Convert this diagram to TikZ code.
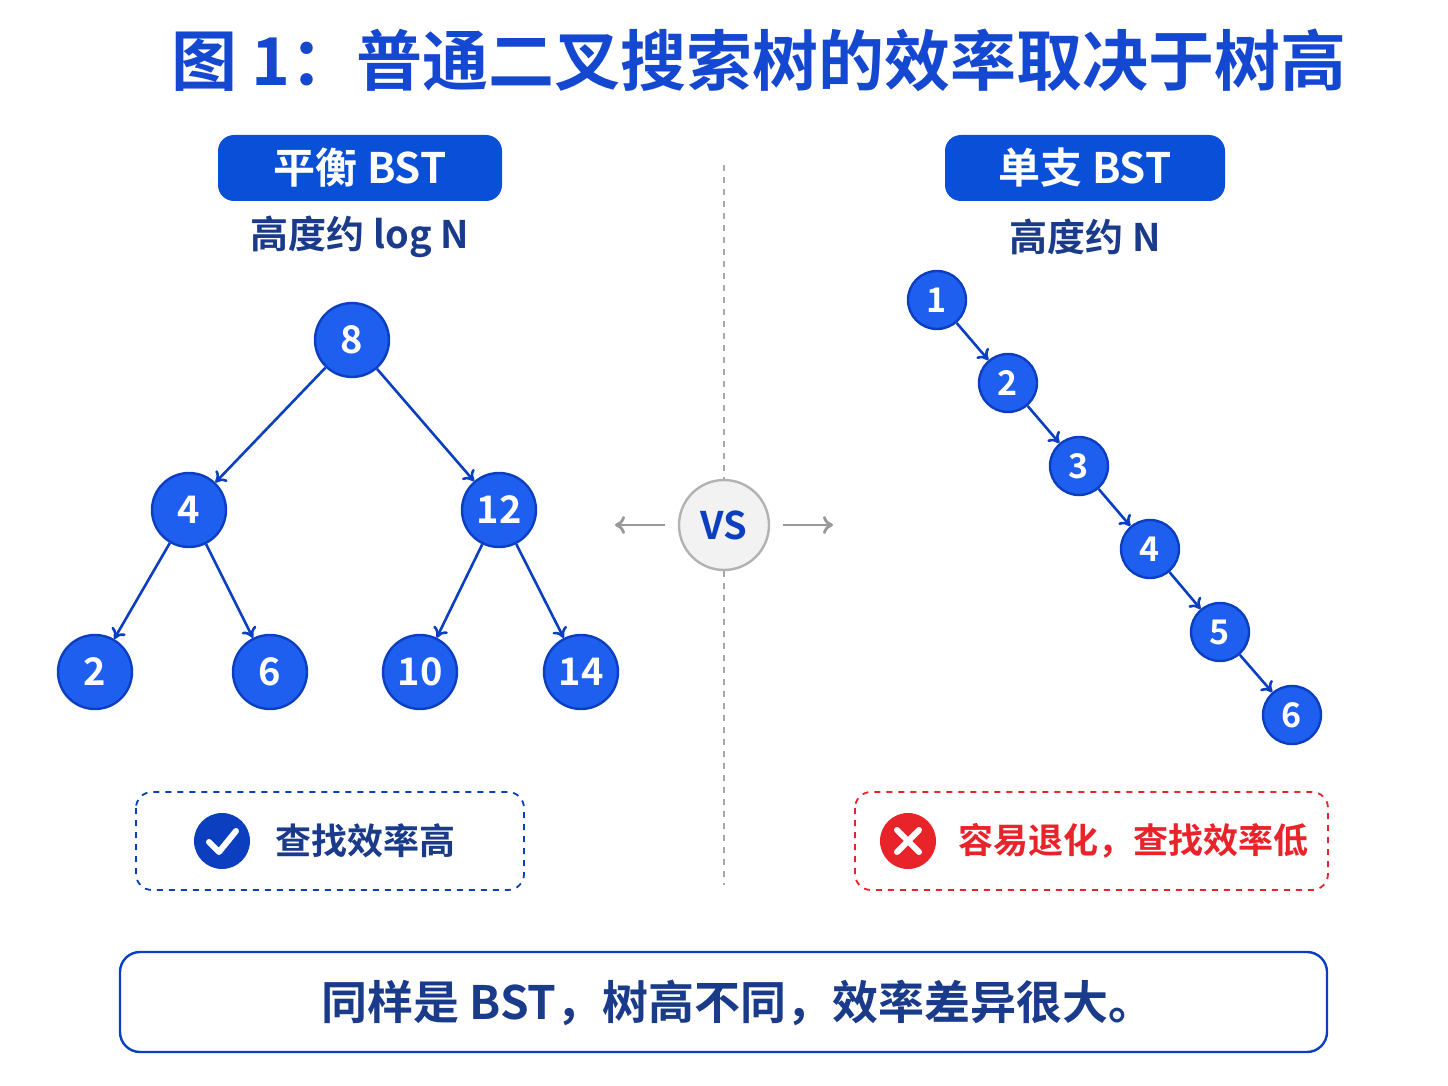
\documentclass[tikz,border=0pt]{standalone}
\usepackage{fontspec}
\setmainfont{Noto Sans CJK SC}[BoldFont={* Bold}]
\usetikzlibrary{arrows.meta}
\definecolor{tblue}{HTML}{1448D0}
\definecolor{pill}{HTML}{0A4FD8}
\definecolor{dblue}{HTML}{1A3A8A}
\definecolor{nfill}{HTML}{1F5FF0}
\definecolor{nedge}{HTML}{0B3FC0}
\definecolor{xred}{HTML}{E8232A}
\begin{document}
\begin{tikzpicture}[x=0.5pt,y=-0.5pt,
  pillst/.style={fill=pill,rounded corners=8pt,text=white,font=\bfseries\fontsize{21}{24}\selectfont,minimum width=142pt,minimum height=33pt},
  sub/.style={text=dblue,font=\bfseries\fontsize{19}{22}\selectfont},
  big/.style={circle,fill=nfill,draw=nedge,line width=1.2pt,minimum size=37pt,inner sep=0pt,text=white,font=\bfseries\fontsize{19}{22}\selectfont},
  small/.style={circle,fill=nfill,draw=nedge,line width=1.2pt,minimum size=29pt,inner sep=0pt,text=white,font=\bfseries\fontsize{17}{20}\selectfont},
  edge/.style={draw=nedge,line width=1.3pt,-{To[length=5pt,width=8pt]}},
  gar/.style={draw=gray!80,line width=1.4pt,-{To[length=5pt,width=9pt]}}]
\useasboundingbox (0,0) rectangle (1448,1086);
\node[text=tblue,font=\bfseries\fontsize{33}{38}\selectfont] (title) at (759,60) {图 1：普通二叉搜索树的效率取决于树高};
\node[pillst] (lp) at (360,168) {平衡 BST};
\node[sub] (ls) at (360,237) {高度约 log N};
\node[pillst,minimum width=140pt] (rp) at (1085,168) {单支 BST};
\node[sub] (rs) at (1085,237) {高度约 N};
% divider
\node[circle,fill=gray!10,draw=gray!60,line width=1.2pt,minimum size=45pt,text=nedge,font=\bfseries\fontsize{19}{22}\selectfont] (vs) at (724,525) {VS};
\coordinate (dt) at (724,165); \coordinate (db) at (724,885);
\draw[gray!70,dashed,line width=0.8pt] (dt) -- (vs.north);
\draw[gray!70,dashed,line width=0.8pt] (vs.south) -- (db);
\coordinate (a1) at (665,525); \coordinate (a2) at (615,525);
\coordinate (a3) at (783,525); \coordinate (a4) at (833,525);
\draw[gar] (a1) -- (a2); \draw[gar] (a3) -- (a4);
% left tree
\node[big] (n8) at (352,340) {8};
\node[big] (n4) at (189,510) {4};
\node[big] (n12) at (499,510) {12};
\node[big] (n2) at (95,672) {2};
\node[big] (n6) at (270,672) {6};
\node[big] (n10) at (420,672) {10};
\node[big] (n14) at (581,672) {14};
\foreach \a/\b in {n8/n4,n8/n12,n4/n2,n4/n6,n12/n10,n12/n14} \draw[edge] (\a) -- (\b);
% right chain
\node[small] (c1) at (937,300) {1};
\node[small] (c2) at (1008,383) {2};
\node[small] (c3) at (1079,466) {3};
\node[small] (c4) at (1150,549) {4};
\node[small] (c5) at (1220,632) {5};
\node[small] (c6) at (1292,715) {6};
\foreach \a/\b in {c1/c2,c2/c3,c3/c4,c4/c5,c5/c6} \draw[edge] (\a) -- (\b);
% result boxes
\draw[nedge,dashed,line width=0.9pt,rounded corners=8pt] (136,792) rectangle (524,890);
\node[circle,fill=nedge,minimum size=28pt,inner sep=0pt] (ck) at (222,841) {};
\draw[white,line width=3pt,line cap=round,line join=round] ([shift={(-13,1)}]ck.center) -- ([shift={(-3,11)}]ck.center) -- ([shift={(14,-10)}]ck.center);
\node[text=dblue,font=\bfseries\fontsize{18}{22}\selectfont] (lt) at (365,841) {查找效率高};
\draw[xred,dashed,line width=0.9pt,rounded corners=8pt] (855,792) rectangle (1328,890);
\node[circle,fill=xred,minimum size=28pt,inner sep=0pt] (xx) at (908,841) {};
\draw[white,line width=3pt,line cap=round] ([shift={(-11,-11)}]xx.center) -- ([shift={(11,11)}]xx.center);
\draw[white,line width=3pt,line cap=round] ([shift={(-11,11)}]xx.center) -- ([shift={(11,-11)}]xx.center);
\node[text=xred,font=\bfseries\fontsize{17.5}{22}\selectfont] (rt) at (1133,841) {容易退化，查找效率低};
% bottom
\draw[nedge,line width=1.2pt,rounded corners=10pt] (120,952) rectangle (1327,1052);
\node[text=dblue,font=\bfseries\fontsize{23}{27}\selectfont] (bt) at (738,1003) {同样是 BST，树高不同，效率差异很大。};
\end{tikzpicture}
\end{document}
